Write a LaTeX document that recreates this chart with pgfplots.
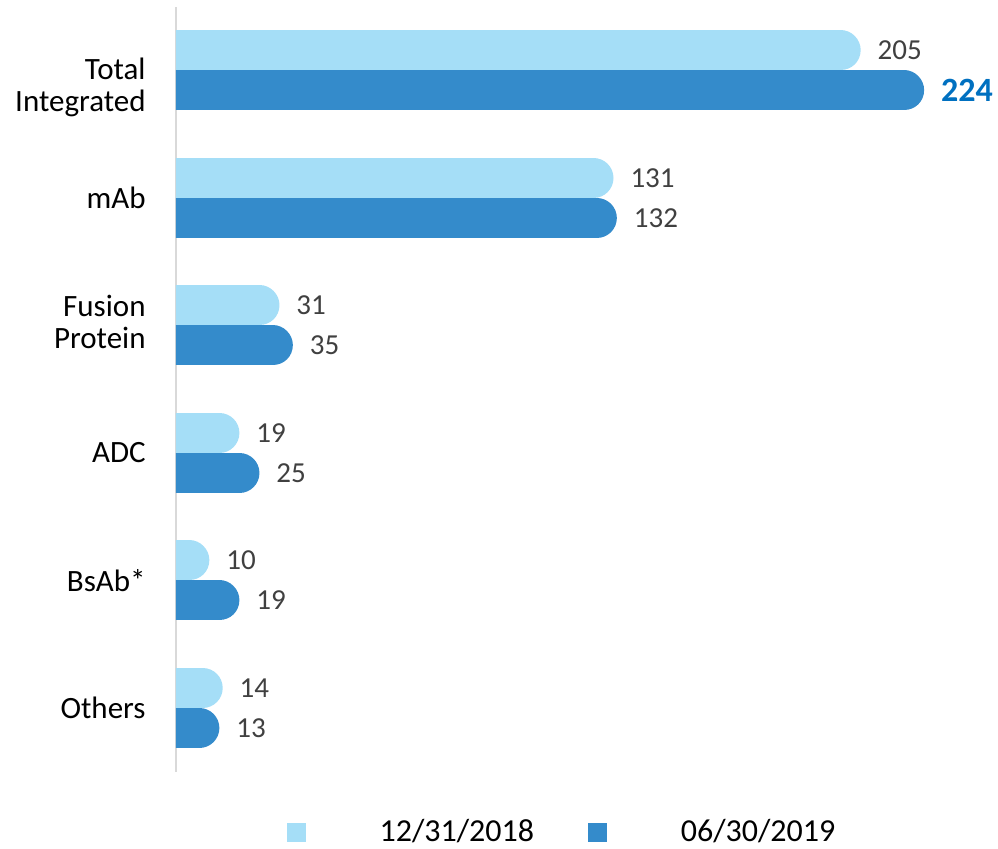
\documentclass[border=0pt]{standalone}
\usepackage{fontspec}
\setmainfont{Carlito}
\usepackage{pgfplots}
\usepackage{pgfplotstable}
\pgfplotsset{compat=1.18}

\definecolor{lightbar}{HTML}{A5DEF7}
\definecolor{darkbar}{HTML}{348BCB}
\definecolor{axisgray}{HTML}{D9D9D9}
\definecolor{valgray}{HTML}{404040}
\definecolor{hiblue}{HTML}{0070C0}

% y = category row (Total Integrated = 5 ... Others = 0)
\pgfplotstableread{
y v
5 205
4 131
3 31
2 19
1 10
0 14
}\first
\pgfplotstableread{
y v
5 224
4 132
3 35
2 25
1 19
0 13
}\second

\begin{document}
\begin{tikzpicture}
\begin{axis}[
    name=ax,
    scale only axis,
    width=411pt, height=382.5pt,
    xmin=0, xmax=246.1,
    ymin=-0.502, ymax=5.498,
    hide x axis,
    axis y line*=left,
    axis line style={draw=axisgray, line width=1pt},
    ytick={0,1,2,3.03,4,4.87},
    yticklabels={Others,BsAb*,ADC,{Fusion\\Protein},mAb,{Total\\Integrated}},
    major tick length=0pt,
    yticklabel style={align=right, font=\fontsize{15.5}{16}\selectfont,
        inner sep=0pt, xshift=-15pt, text=black},
    every node near coord/.append style={anchor=west, inner sep=0pt, outer sep=0pt,
        xshift=18.5pt, text=valgray, font=\fontsize{14.5}{17}\selectfont},
    legend columns=2,
    legend style={draw=none, fill=none, at={(0.4684,-0.0784)}, anchor=center,
        inner sep=0pt, font=\fontsize{16}{19}\selectfont,
        nodes={inner sep=0pt},
        /tikz/every even column/.append style={column sep=27pt}},
]
% rounded bars: round caps, left cap clipped at x = 0, radius = 6 units
\addplot[xcomb, draw=lightbar, line width=20pt, line cap=round, mark=none,
    forget plot, point meta=explicit symbolic, nodes near coords]
    table[x expr=\thisrow{v}-6, y expr=\thisrow{y}+0.157, meta=v] {\first};
\addplot[xcomb, draw=darkbar, line width=20pt, line cap=round, mark=none,
    forget plot]
    table[x expr=\thisrow{v}-6, y expr=\thisrow{y}-0.157] {\second};
% labels of the second series
\addplot[draw=none, mark=none, forget plot, point meta=explicit symbolic,
    nodes near coords, skip coords between index={0}{1}]
    table[x expr=\thisrow{v}-6, y expr=\thisrow{y}-0.157, meta=v] {\second};
\addplot[draw=none, mark=none, forget plot, point meta=explicit symbolic,
    nodes near coords, skip coords between index={1}{6},
    every node near coord/.append style={text=hiblue,
        font=\fontsize{17}{20}\selectfont\bfseries}]
    table[x expr=\thisrow{v}-6, y expr=\thisrow{y}-0.157, meta=v] {\second};

\addlegendimage{legend image code/.code={
    \fill[lightbar] (0pt,-4.5pt) rectangle (9pt,4.5pt); \path (46pt,0pt);}}
\addlegendentry{12/31/2018}
\addlegendimage{legend image code/.code={
    \fill[darkbar] (0pt,-4.5pt) rectangle (9pt,4.5pt); \path (46pt,0pt);}}
\addlegendentry{06/30/2019}
\end{axis}
\pgfresetboundingbox
\path ([xshift=-88pt,yshift=-38.5pt]ax.south west) rectangle ([yshift=3.5pt]ax.north east);
\end{tikzpicture}
\end{document}
